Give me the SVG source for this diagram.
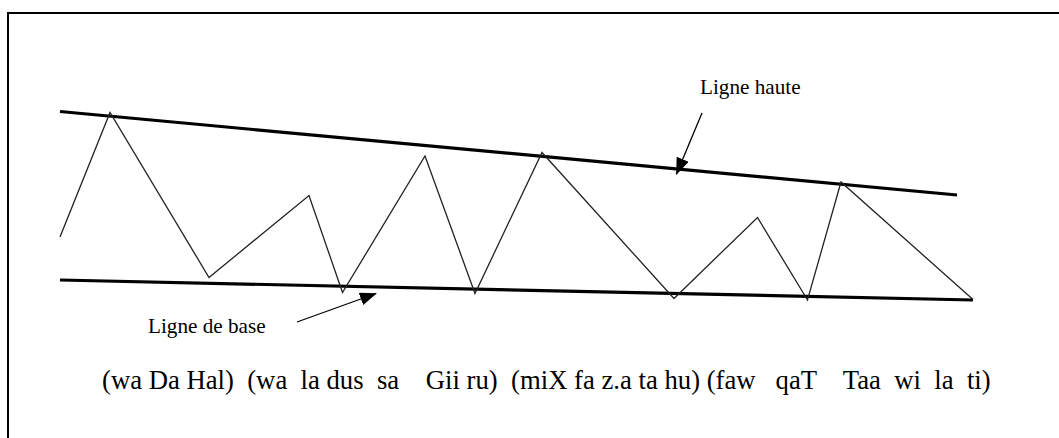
<svg xmlns="http://www.w3.org/2000/svg" width="1059" height="438" viewBox="0 0 1059 438">
<defs>
<style>
.frame{fill:none;stroke:#000;stroke-width:2}
.bound{fill:none;stroke:#000;stroke-width:3.2;stroke-linecap:butt}
.zig{fill:none;stroke:#222;stroke-width:1.3;stroke-linejoin:miter}
.conn{fill:none;stroke:#000;stroke-width:1.3}
.lbl{font-family:"Liberation Serif","Times New Roman",serif;font-size:21.2px;fill:#000}
.txt{font-family:"Liberation Serif","Times New Roman",serif;font-size:26.7px;fill:#000;white-space:pre}
</style>
<marker id="ah" viewBox="0 0 17 13" refX="16" refY="6.5" markerWidth="17" markerHeight="13" markerUnits="userSpaceOnUse" orient="auto">
<path d="M0,0 L17,6.5 L0,13 z" fill="#000"/>
</marker>
</defs>
<g id="frame"><path class="frame" d="M8,438 L8,13 L1059,13"/></g>
<g id="ligne-haute-line"><line class="bound" x1="60" y1="111.5" x2="957" y2="195"/></g>
<g id="ligne-base-line"><line class="bound" x1="60" y1="280" x2="973" y2="300"/></g>
<g id="zigzag"><polyline class="zig" points="60,237 110,112.5 209,277.5 309,195.5 342.5,292.5 425,156 475,293.5 542,152.5 674,298.5 757.5,217.5 807.5,300 841,182 973,299.5"/></g>
<g id="connectors">
<line class="conn" x1="702" y1="113" x2="676.5" y2="174" marker-end="url(#ah)"/>
<line class="conn" x1="297" y1="322" x2="376" y2="293.5" marker-end="url(#ah)"/>
</g>
<g id="label-haute"><text class="lbl" x="700" y="94">Ligne haute</text></g>
<g id="label-base"><text class="lbl" x="148" y="333">Ligne de base</text></g>
<g id="transcription">
<text class="txt" x="102" y="389" xml:space="preserve">(wa Da Hal)  (wa  la dus  sa    Gii ru)  (miX fa z.a ta hu) (faw   qaT    Taa  wi  la  ti)</text>
</g>
</svg>
